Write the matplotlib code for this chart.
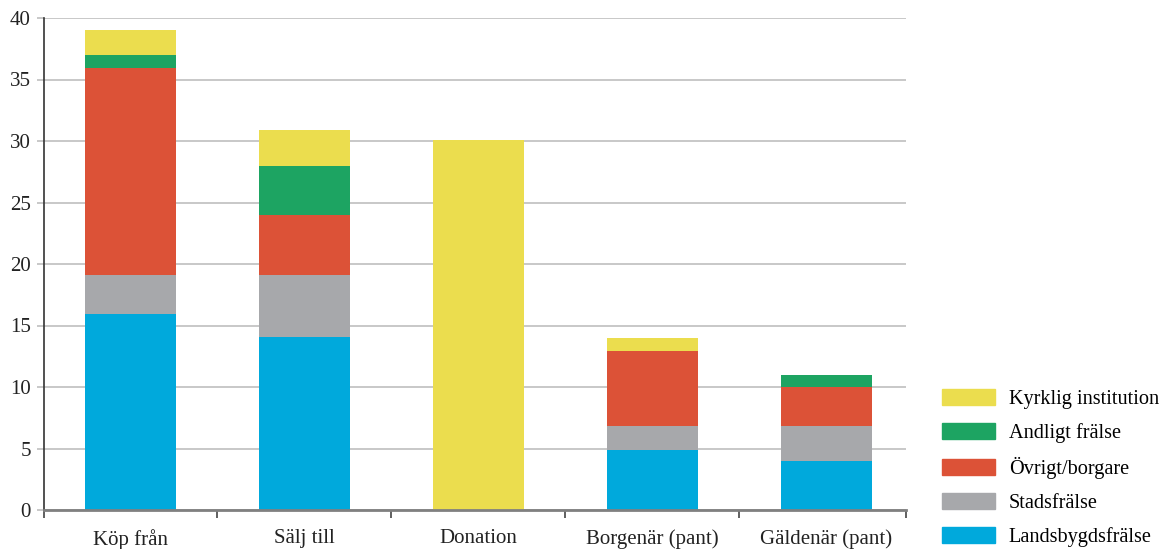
import matplotlib
matplotlib.use("Agg")
import matplotlib.pyplot as plt
import numpy as np
from matplotlib.patches import Patch

plt.rcParams['font.family'] = ['Liberation Serif', 'DejaVu Serif']

categories = ["Köp från", "Sälj till", "Donation", "Borgenär (pant)", "Gäldenär (pant)"]
series_names = ["Landsbygdsfrälse", "Stadsfrälse", "Övrigt/borgare", "Andligt frälse", "Kyrklig institution"]
landsbygd = [15.9, 14.1, 0.0, 4.9, 4.0]
stads = [3.2, 5.0, 0.0, 1.9, 2.8]
ovrigt = [16.8, 4.9, 0.0, 6.1, 3.2]
andligt = [1.1, 4.0, 0.0, 0.0, 1.0]
kyrklig = [2.0, 2.9, 30.1, 1.1, 0.0]
colors = ["#00A9DC", "#A7A8AB", "#DC5237", "#1DA462", "#EBDD4E"]
yticks = [0, 5, 10, 15, 20, 25, 30, 35, 40]

W, H = 1163, 549
fig = plt.figure(figsize=(W / 100, H / 100), dpi=100)
left, right, bottom, top = 43.5, 906, 510, 18
ax = fig.add_axes([left / W, (H - bottom) / H, (right - left) / W, (bottom - top) / H])

x = np.arange(len(categories))
base = np.zeros(len(categories))
series = [landsbygd, stads, ovrigt, andligt, kyrklig]
for vals, name, c in zip(series, series_names, colors):
    ax.bar(x, vals, width=0.523, bottom=base, color=c, label=name, zorder=3)
    base += np.array(vals)

ax.set_xlim(-0.5, 4.457)
ax.set_ylim(0, 40)
ax.set_yticks(yticks)
ax.set_yticklabels([str(v) for v in yticks], fontsize=15, color="#222222")
ax.yaxis.grid(True, color="#C4C4C4", linewidth=1.3, zorder=0)
ax.tick_params(axis='y', length=5, color="#C4C4C4", width=1.3, pad=4)

ax.set_xticks([-0.5, 0.5, 1.5, 2.5, 3.5, 4.457])
ax.set_xticklabels([])
ax.tick_params(axis='x', which='major', length=6, color="#444444", width=1.2)
ax.set_xticks(x, minor=True)
ax.set_xticklabels(categories, minor=True, fontsize=15, color="#222222")
ax.tick_params(axis='x', which='minor', length=0, pad=14)

for s in ["top", "right"]:
    ax.spines[s].set_visible(False)
ax.spines["left"].set_color("#333333")
ax.spines["left"].set_linewidth(1.2)
ax.spines["bottom"].set_color("#808080")
ax.spines["bottom"].set_linewidth(2)
ax.spines["bottom"].set_zorder(4)

handles = [Patch(color=c, label=n) for c, n in zip(colors, series_names)][::-1]
fig.legend(handles=handles, loc="upper left", bbox_to_anchor=(942 / W, 1 - 389 / H),
           frameon=False, fontsize=14.6, handlelength=2.62, handleheight=0.8,
           handletextpad=0.68, labelspacing=0.7, borderaxespad=0, borderpad=0)

fig.savefig("out.png", dpi=100)
